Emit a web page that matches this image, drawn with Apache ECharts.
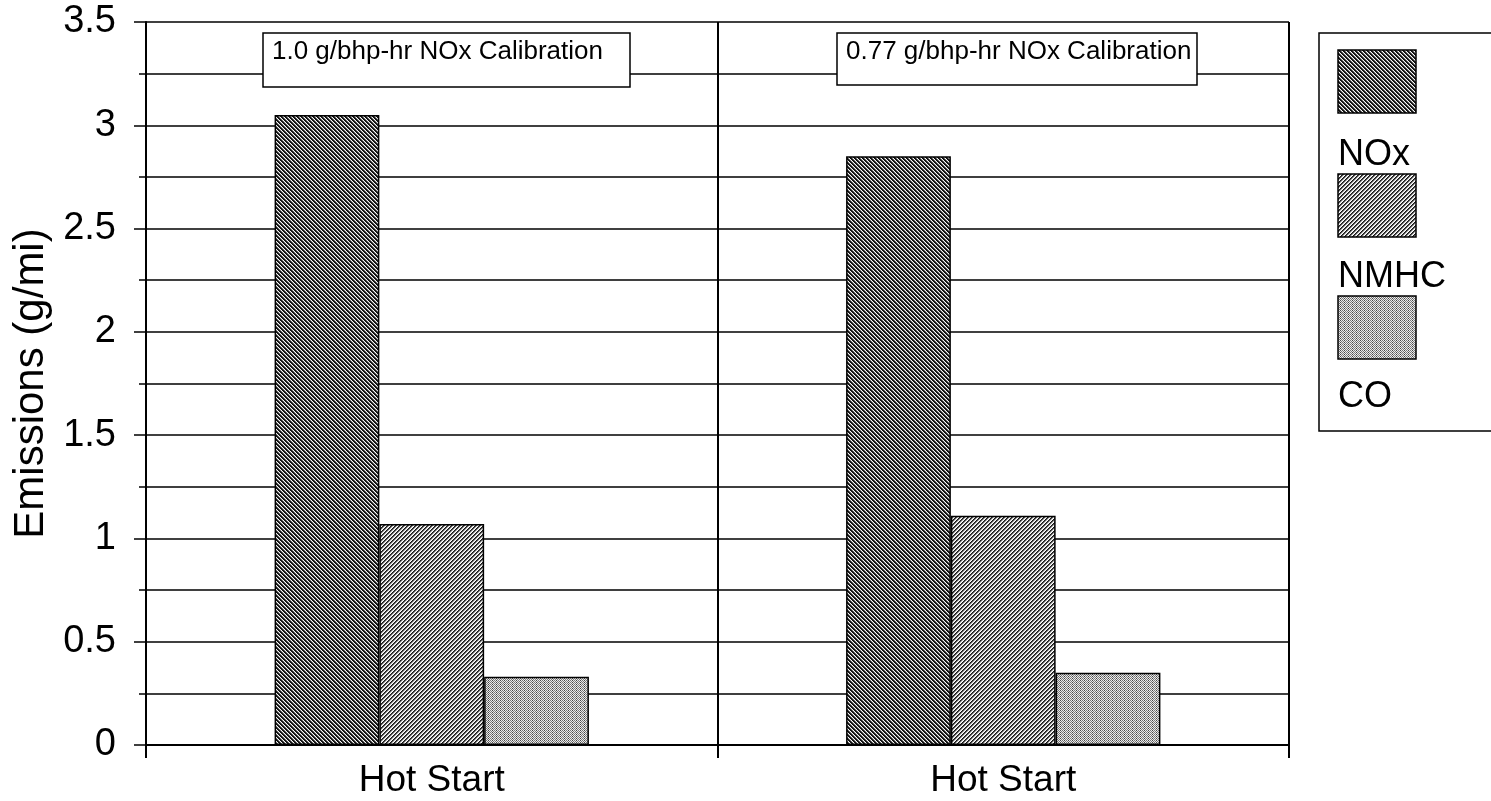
<!DOCTYPE html>
<html>
<head>
<meta charset="utf-8">
<script src="https://cdn.jsdelivr.net/npm/echarts@6/dist/echarts.min.js"></script>
<style>
html,body{margin:0;padding:0;background:#fff;}
#chart{width:1491px;height:801px;}
</style>
</head>
<body>
<div id="chart"></div>
<script>
// ---- data ----
const categories = ['Hot Start', 'Hot Start'];
const seriesNames = ['NOx', 'NMHC', 'CO'];
const noxValues = [3.05, 2.85];
const nmhcValues = [1.07, 1.11];
const coValues = [0.33, 0.35];
const annotations = ['1.0 g/bhp-hr NOx Calibration', '0.77 g/bhp-hr NOx Calibration'];
const yTicks = { min: 0, max: 3.5, interval: 0.5 };

// ---- hatch patterns ----
function makePattern(fn) {
  const c = document.createElement('canvas');
  c.width = 8; c.height = 8;
  const ctx = c.getContext('2d');
  const img = ctx.createImageData(8, 8);
  for (let y = 0; y < 8; y++) {
    for (let x = 0; x < 8; x++) {
      const v = fn(x, y);
      const i = (y * 8 + x) * 4;
      img.data[i] = v; img.data[i + 1] = v; img.data[i + 2] = v; img.data[i + 3] = 255;
    }
  }
  ctx.putImageData(img, 0, 0);
  return c;
}
const noxLevels = [20, 20, 120, 250];
const nmhcLevels = [25, 80, 205, 255];
const noxCanvas = makePattern((x, y) => noxLevels[(((x - y) % 4) + 4) % 4]);
const nmhcCanvas = makePattern((x, y) => nmhcLevels[(x + y) % 4]);
const coCanvas = makePattern((x, y) => ((x + y) % 2 === 0 ? ((x % 4 === 0) ? 70 : 120) : 235));
const patterns = [noxCanvas, nmhcCanvas, coCanvas].map(c => ({ image: c, repeat: 'repeat' }));
const seriesData = [noxValues, nmhcValues, coValues];

const chart = echarts.init(document.getElementById('chart'), null, { renderer: 'canvas' });
const FONT = 'Liberation Sans, Arial, sans-serif';

const legendGraphics = [
  { type: 'rect', shape: { x: 1319, y: 33, width: 200, height: 398 }, style: { fill: '#fff', stroke: '#000', lineWidth: 1.5 }, z: 10 }
];
const patchTops = [50, 174, 296];
const labelMid = [155, 277, 397];
seriesNames.forEach((n, i) => {
  legendGraphics.push({ type: 'rect', shape: { x: 1338, y: patchTops[i], width: 78, height: 63 }, style: { fill: patterns[i], stroke: '#000', lineWidth: 1.5 }, z: 11 });
  legendGraphics.push({ type: 'text', x: 1338, y: labelMid[i], style: { text: n, font: '36px ' + FONT, fill: '#000', verticalAlign: 'middle' }, z: 11 });
});

const annGraphics = [];
const annBoxes = [[263, 33, 367, 54], [837, 33, 360, 52]];
annotations.forEach((t, i) => {
  const b = annBoxes[i];
  annGraphics.push({ type: 'rect', shape: { x: b[0], y: b[1], width: b[2], height: b[3] }, style: { fill: '#fff', stroke: '#000', lineWidth: 1.5 }, z: 10 });
  annGraphics.push({ type: 'text', x: b[0] + 9, y: 52, style: { text: t, font: '26px ' + FONT, fill: '#000', verticalAlign: 'middle' }, z: 11 });
});

chart.setOption({
  animation: false,
  backgroundColor: '#fff',
  textStyle: { fontFamily: FONT },
  grid: { left: 146, right: 202, top: 22, bottom: 56, containLabel: false },
  xAxis: {
    type: 'category',
    data: categories,
    axisLine: { show: true, lineStyle: { color: '#000', width: 2 } },
    axisTick: { show: true, length: 13, lineStyle: { color: '#000', width: 2 } },
    axisLabel: { color: '#000', fontSize: 37, margin: 17, fontFamily: FONT },
    splitLine: { show: true, lineStyle: { color: '#000', width: 2 } }
  },
  yAxis: {
    type: 'value',
    min: yTicks.min, max: yTicks.max, interval: yTicks.interval,
    name: 'Emissions (g/mi)',
    nameLocation: 'middle',
    nameGap: 92,
    nameTextStyle: { color: '#000', fontSize: 42, fontFamily: FONT },
    axisLine: { show: true, lineStyle: { color: '#000', width: 2 } },
    axisTick: { show: true, length: 12, lineStyle: { color: '#000', width: 1.5 } },
    minorTick: { show: true, splitNumber: 2, length: 7, lineStyle: { color: '#000', width: 1.5 } },
    axisLabel: { color: '#000', fontSize: 38, margin: 30, fontFamily: FONT },
    splitLine: { show: true, lineStyle: { color: '#000', width: 1.5 } },
    minorSplitLine: { show: true, lineStyle: { color: '#000', width: 1.5 } }
  },
  series: seriesNames.map((n, i) => ({
    name: n,
    type: 'bar',
    data: seriesData[i],
    barGap: '0%',
    barCategoryGap: '45%',
    itemStyle: { color: patterns[i], borderColor: '#000', borderWidth: 1.5 },
    z: 3
  })),
  graphic: legendGraphics.concat(annGraphics)
});
</script>
</body>
</html>
